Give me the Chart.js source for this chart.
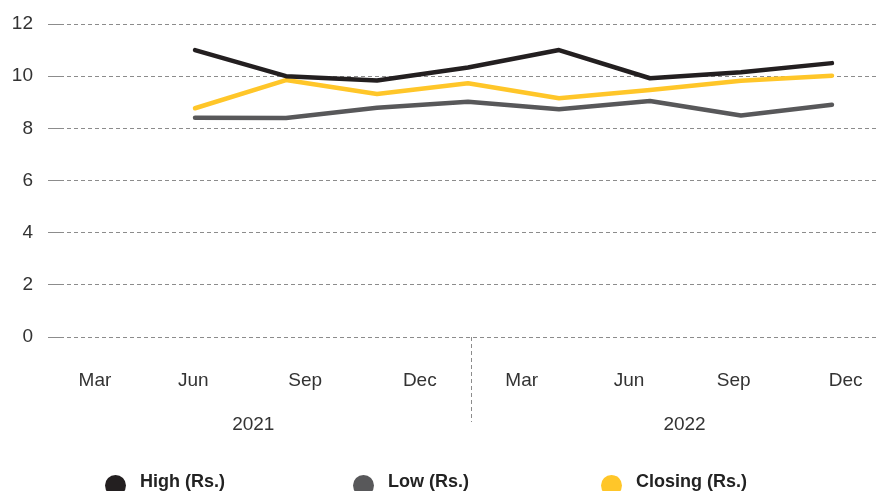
<!DOCTYPE html>
<html>
<head>
<meta charset="utf-8">
<script src="https://cdn.jsdelivr.net/npm/chart.js@4/dist/chart.umd.min.js"></script>
<style>
  html, body { margin: 0; padding: 0; background: #fff; overflow: hidden; }
  #wrap { position: relative; width: 876px; height: 491px; }
  #legend { position: absolute; left: 105px; top: 470px; display: flex; }
  .item { width: 248px; display: flex; align-items: flex-start; height: 22px;
          font: bold 18px "Liberation Sans", Arial, sans-serif; line-height: 22px; color: #222; }
  .dot { width: 21px; height: 21px; border-radius: 50%; margin-top: 5px; margin-right: 14px; flex: none; }
</style>
</head>
<body>
<div id="wrap">
  <canvas id="c" width="876" height="491"></canvas>
  <div id="legend"></div>
</div>
<script>
// ---- data ----
const monthLabels = ['Mar', 'Jun', 'Sep', 'Dec', 'Mar', 'Jun', 'Sep', 'Dec'];
const yearLabels = ['2021', '2022'];
const yTicks = [0, 2, 4, 6, 8, 10, 12];
const highValues = [11.0, 10.0, 9.83, 10.33, 11.0, 9.92, 10.15, 10.5];
const lowValues = [8.41, 8.40, 8.79, 9.02, 8.73, 9.05, 8.49, 8.90];
const closingValues = [8.77, 9.85, 9.32, 9.73, 9.15, 9.47, 9.82, 10.02];
const seriesNames = ['High (Rs.)', 'Low (Rs.)', 'Closing (Rs.)'];

// ---- layout of the axis (positions in data-point index units) ----
const monthTickPos = [-1.10, -0.02, 1.21, 2.47, 3.59, 4.77, 5.92, 7.15];
const yearTickPos = [0.64, 5.38];
const yearDividerPos = 3.03;
const xMin = -1.484, xMax = 7.484;

const colors = ['#231f20', '#58585a', '#ffc629'];
const FONT = '"Liberation Sans", Arial, sans-serif';

const toPts = arr => arr.map((v, i) => ({ x: i, y: v }));
const seriesValues = [highValues, lowValues, closingValues];

const datasets = seriesNames.map((name, k) => ({
  label: name,
  data: toPts(seriesValues[k]),
  borderColor: colors[k],
  backgroundColor: colors[k],
  borderWidth: 4.5,
  pointRadius: 0,
  tension: 0,
  borderCapStyle: 'round',
  borderJoinStyle: 'round',
  fill: false
}));

const dividerPlugin = {
  id: 'divider',
  afterDraw(chart) {
    const ctx = chart.ctx;
    const x = Math.round(chart.scales.x.getPixelForValue(yearDividerPos)) + 0.5;
    ctx.save();
    ctx.strokeStyle = '#8c8c8c';
    ctx.lineWidth = 1;
    ctx.setLineDash([4, 3]);
    ctx.beginPath();
    ctx.moveTo(x, chart.chartArea.bottom);
    ctx.lineTo(x, chart.scales.x2.bottom - 13);
    ctx.stroke();
    ctx.restore();
  }
};

function fixX(h) {
  return axis => { axis.height = h; axis.paddingLeft = 0; axis.paddingRight = 0; };
}

const chart = new Chart(document.getElementById('c'), {
  type: 'line',
  data: { datasets },
  options: {
    responsive: false,
    animation: false,
    layout: { padding: { top: 24, right: 0, left: 0, bottom: 56 } },
    plugins: { legend: { display: false }, tooltip: { enabled: false } },
    scales: {
      x: {
        type: 'linear',
        position: 'bottom',
        weight: 0,
        min: xMin, max: xMax,
        bounds: 'data',
        afterBuildTicks: axis => { axis.ticks = monthTickPos.map(v => ({ value: v })); },
        afterFit: fixX(54),
        ticks: {
          autoSkip: false, maxRotation: 0, padding: 32,
          font: { family: FONT, size: 19 }, color: '#333',
          callback: (v, i) => monthLabels[i]
        },
        grid: { display: false, drawTicks: false },
        border: { display: false }
      },
      x2: {
        type: 'linear',
        position: 'bottom',
        weight: 1,
        min: xMin, max: xMax,
        bounds: 'data',
        afterBuildTicks: axis => { axis.ticks = yearTickPos.map(v => ({ value: v })); },
        afterFit: fixX(44),
        ticks: {
          autoSkip: false, maxRotation: 0, padding: 22,
          font: { family: FONT, size: 19 }, color: '#333',
          callback: (v, i) => yearLabels[i]
        },
        grid: { display: false, drawTicks: false },
        border: { display: false }
      },
      y: {
        min: 0, max: 12,
        afterBuildTicks: axis => { axis.ticks = yTicks.map(v => ({ value: v })); },
        afterFit: axis => { axis.width = 60; axis.paddingTop = 0; axis.paddingBottom = 0; },
        ticks: { padding: 15, font: { family: FONT, size: 19 }, color: '#333' },
        grid: {
          color: '#8c8c8c', lineWidth: 1,
          tickLength: 12, tickBorderDash: [], tickColor: '#8c8c8c', drawTicks: true
        },
        border: { display: false, dash: [4, 3] }
      }
    }
  },
  plugins: [dividerPlugin]
});

// HTML legend built from the datasets
const legend = document.getElementById('legend');
chart.data.datasets.forEach(ds => {
  const item = document.createElement('div');
  item.className = 'item';
  const dot = document.createElement('span');
  dot.className = 'dot';
  dot.style.background = ds.borderColor;
  const txt = document.createElement('span');
  txt.textContent = ds.label;
  item.appendChild(dot);
  item.appendChild(txt);
  legend.appendChild(item);
});
</script>
</body>
</html>
